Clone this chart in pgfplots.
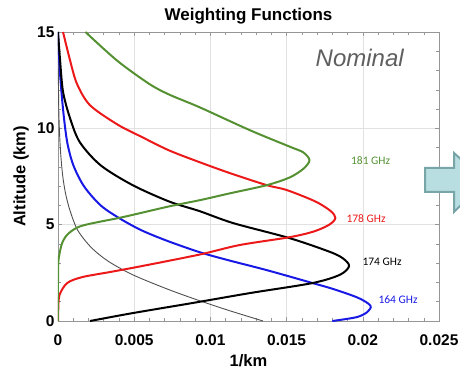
\documentclass[border=0pt]{standalone}
\usepackage{fontspec}
\setmainfont{Liberation Sans}
\newfontfamily\labfont{Carlito}
\usepackage{pgfplots}
\pgfplotsset{compat=1.18}
\definecolor{cgreen}{RGB}{85,145,50}
\definecolor{cred}{RGB}{235,25,25}
\definecolor{cblue}{RGB}{25,25,230}
\definecolor{cgray}{RGB}{80,80,80}
\definecolor{gridc}{RGB}{225,225,225}
\definecolor{framec}{RGB}{150,150,150}
\definecolor{arrowfill}{RGB}{185,222,226}
\definecolor{arrowdraw}{RGB}{120,165,168}
\definecolor{nomc}{RGB}{95,95,95}
\begin{document}
\begin{tikzpicture}
\useasboundingbox (0,0) rectangle (460pt,369pt);
\begin{axis}[
  at={(58pt,48pt)}, anchor=south west,
  scale only axis, width=381pt, height=289pt,
  xmin=0, xmax=0.025, ymin=0, ymax=15,
  xtick={0,0.005,0.01,0.015,0.02,0.025},
  xticklabels={0,0.005,0.01,0.015,0.02,0.025},
  ytick={0,5,10,15},
  yticklabels={0,5,10,15},
  minor x tick num=4, minor y tick num=4,
  xmajorgrids, ymajorgrids,
  grid style={gridc, line width=0.5pt},
  axis line style={framec, line width=0.6pt},
  tick style={framec, line width=0.5pt},
  major tick length=4pt, minor tick length=3pt,
  tick align=inside,
  ticklabel style={font=\fontsize{15.5}{18}\selectfont\bfseries},
  xticklabel style={anchor=base, yshift=-24pt},
  title={Weighting Functions},
  title style={font=\fontsize{17}{20}\selectfont\bfseries, at={(axis description cs:0.5,1)}, anchor=base, yshift=5pt},
  xlabel={1/km},
  xlabel style={font=\fontsize{16.5}{20}\selectfont\bfseries, at={(axis description cs:0.5,0)}, anchor=base, yshift=-45pt},
  ylabel={Altitude (km)},
  ylabel style={font=\fontsize{16.5}{20}\selectfont\bfseries, at={(axis description cs:-0.097,0.5)}, anchor=center},
  clip=true,
]
% thin gray
\addplot[cgray, line width=0.9pt, smooth, tension=0.5] coordinates {
(0.01345,0) (0.0112,0.55) (0.0093,1.05) (0.0072,1.65) (0.0049,2.4) (0.0033,3.1) (0.0022,3.8) (0.0013,4.7) (0.0008,5.7) (0.0005,6.6) (0.0003,7.6) (0.00015,9) (0.00005,11) (0,15)};
% blue 164
\addplot[cblue, line width=2pt, smooth, tension=0.5] coordinates {
(0.0180,0) (0.0196,0.2) (0.0203,0.47) (0.0205,0.8) (0.0197,1.2) (0.0181,1.65) (0.0167,1.97) (0.0137,2.64) (0.0112,3.15) (0.0093,3.57) (0.0072,4.15) (0.0055,4.7) (0.0041,5.3) (0.0028,6.0) (0.0017,7.0) (0.001,8.1) (0.0006,9.3) (0.00033,11.0) (0.00012,13) (0,15)};
% black 174
\addplot[black, line width=2pt, smooth, tension=0.5] coordinates {
(0.0021,0) (0.0049,0.41) (0.0088,0.93) (0.0126,1.45) (0.0167,1.97) (0.0185,2.4) (0.0191,2.85) (0.0187,3.25) (0.0178,3.6) (0.0152,4.3) (0.0115,5.08) (0.0093,5.7) (0.0073,6.2) (0.0049,7.05) (0.0028,8.08) (0.00144,9.27) (0.0008,10.5) (0.00033,11.9) (0.00013,13.6) (0,15)};
% red 178
\addplot[cred, line width=2pt, smooth, tension=0.5] coordinates {
(0,0) (0.00002,0.67) (0.0001,1.35) (0.0006,1.97) (0.0016,2.28) (0.0034,2.54) (0.0055,2.85) (0.0093,3.45) (0.0119,3.94) (0.0152,4.35) (0.0168,4.65) (0.0178,5.0) (0.0182,5.34) (0.0179,5.7) (0.0169,6.2) (0.015,6.8) (0.0137,7.05) (0.0113,7.67) (0.0093,8.24) (0.0073,8.85) (0.0055,9.55) (0.0039,10.2) (0.0021,11.2) (0.00125,12.3) (0.0008,13.5) (0.00033,15)};
% green 181
\addplot[cgreen, line width=2pt, smooth, tension=0.5] coordinates {
(0,0) (0,2.0) (0.00002,3.0) (0.0001,3.5) (0.0003,4.1) (0.0007,4.55) (0.0016,4.95) (0.0043,5.4) (0.0073,5.95) (0.0093,6.27) (0.0113,6.63) (0.0137,7.05) (0.0152,7.45) (0.0161,7.9) (0.0165,8.34) (0.0161,8.75) (0.0152,9.05) (0.0126,9.9) (0.0093,11.09) (0.0073,11.75) (0.006,12.3) (0.0039,13.5) (0.0018,15)};
\node[anchor=west, text=cgreen, font=\labfont\fontsize{11.5}{13}\selectfont] at (axis cs:0.0190,8.34) {181 GHz};
\node[anchor=west, text=cred, font=\labfont\fontsize{11.5}{13}\selectfont] at (axis cs:0.0187,5.34) {178 GHz};
\node[anchor=west, text=black, font=\labfont\fontsize{11.5}{13}\selectfont] at (axis cs:0.01975,3.06) {174 GHz};
\node[anchor=west, text=cblue, font=\labfont\fontsize{11.5}{13}\selectfont] at (axis cs:0.0208,1.09) {164 GHz};
\node[text=nomc, font=\fontsize{24}{28}\selectfont\itshape] at (axis cs:0.0198,13.63) {Nominal};
\end{axis}
\filldraw[fill=arrowfill, draw=arrowdraw, line width=2pt]
  (425pt,177pt) -- (425pt,201pt) -- (454pt,201pt) -- (454pt,216pt) -- (485pt,188pt) -- (454pt,157pt) -- (454pt,177pt) -- cycle;
\end{tikzpicture}
\end{document}
